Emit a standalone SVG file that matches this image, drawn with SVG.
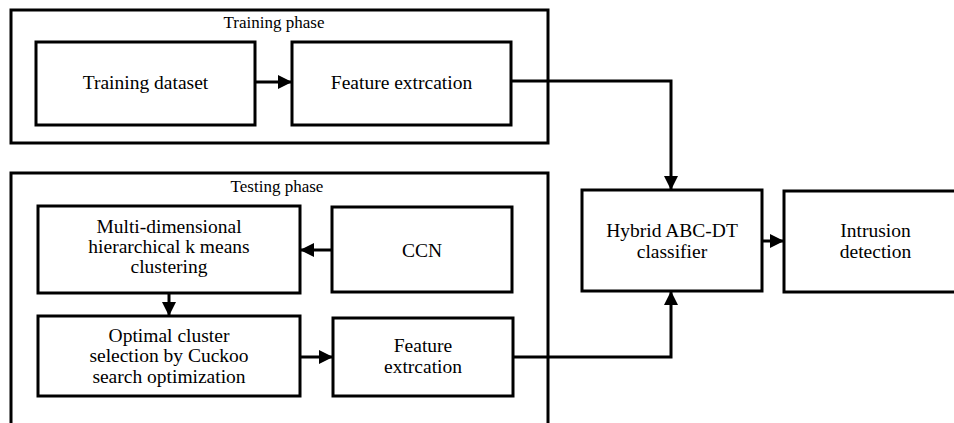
<svg xmlns="http://www.w3.org/2000/svg" width="954" height="423" viewBox="0 0 954 423">
  <style>
    .box { fill: #fff; stroke: #000; stroke-width: 3; }
    .frame { fill: none; stroke: #000; stroke-width: 3; }
    .lbl { font-family: 'Liberation Serif', 'Times New Roman', serif; font-size: 19.5px; fill: #000; text-anchor: middle; }
    .ttl { font-family: 'Liberation Serif', 'Times New Roman', serif; font-size: 17px; fill: #000; text-anchor: middle; }
    .conn { fill: none; stroke: #000; stroke-width: 3; }
  </style>
  <defs>
    <marker id="arrow" markerUnits="userSpaceOnUse" markerWidth="14" markerHeight="14" refX="14" refY="7" orient="auto">
      <path d="M0,0 L14,7 L0,14 z" fill="#000"/>
    </marker>
  </defs>
  <rect width="954" height="423" fill="#fff"/>

  <g id="training-phase">
    <rect class="frame" x="11" y="10" width="537" height="133"/>
    <text class="ttl" x="274" y="28">Training phase</text>
  </g>
  <g id="testing-phase">
    <rect class="frame" x="11" y="173" width="537" height="270"/>
    <text class="ttl" x="277" y="192">Testing phase</text>
  </g>

  <g id="training-dataset">
    <rect class="box" x="36" y="42" width="219" height="83"/>
    <text class="lbl" x="145.5" y="89">Training dataset</text>
  </g>
  <g id="feature-extraction-train">
    <rect class="box" x="292" y="42" width="219" height="83"/>
    <text class="lbl" x="401.5" y="89">Feature extrcation</text>
  </g>
  <g id="multi-dimensional">
    <rect class="box" x="38" y="206" width="262" height="87"/>
    <text class="lbl" x="169" y="233">Multi-dimensional</text>
    <text class="lbl" x="169" y="253">hierarchical k means</text>
    <text class="lbl" x="169" y="273">clustering</text>
  </g>
  <g id="ccn">
    <rect class="box" x="332" y="207" width="180" height="85"/>
    <text class="lbl" x="422" y="257">CCN</text>
  </g>
  <g id="optimal-cluster">
    <rect class="box" x="38" y="316" width="262" height="80"/>
    <text class="lbl" x="169" y="342">Optimal cluster</text>
    <text class="lbl" x="169" y="362">selection by Cuckoo</text>
    <text class="lbl" x="169" y="383">search optimization</text>
  </g>
  <g id="feature-extraction-test">
    <rect class="box" x="333" y="318" width="180" height="78"/>
    <text class="lbl" x="423" y="352">Feature</text>
    <text class="lbl" x="423" y="373">extrcation</text>
  </g>
  <g id="hybrid-classifier">
    <rect class="box" x="582" y="190" width="180" height="101"/>
    <text class="lbl" x="672" y="237">Hybrid ABC-DT</text>
    <text class="lbl" x="672" y="258">classifier</text>
  </g>
  <g id="intrusion-detection">
    <rect class="box" x="784" y="191" width="190" height="101"/>
    <text class="lbl" x="875.5" y="237">Intrusion</text>
    <text class="lbl" x="875.5" y="258">detection</text>
  </g>

  <g id="connectors">
    <path class="conn" d="M255,82 L292,82" marker-end="url(#arrow)"/>
    <path class="conn" d="M511,81 L671,81 L671,190" marker-end="url(#arrow)"/>
    <path class="conn" d="M332,250 L300,250" marker-end="url(#arrow)"/>
    <path class="conn" d="M169,293 L169,316" marker-end="url(#arrow)"/>
    <path class="conn" d="M300,357 L333,357" marker-end="url(#arrow)"/>
    <path class="conn" d="M513,357 L671,357 L671,291" marker-end="url(#arrow)"/>
    <path class="conn" d="M762,241 L784,241" marker-end="url(#arrow)"/>
  </g>
</svg>
